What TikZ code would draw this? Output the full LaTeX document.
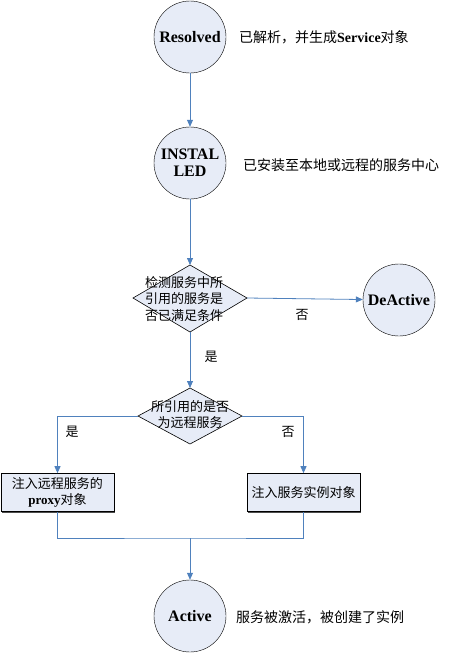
\documentclass[tikz,border=0pt]{standalone}
\usepackage{fontspec}
\setmainfont{Liberation Serif}
\newfontfamily\cjk{Noto Sans CJK SC}
\usetikzlibrary{arrows.meta,shadows}

\definecolor{shapefill}{RGB}{231, 236, 247}
\definecolor{flowblue}{RGB}{79, 129, 189}

\tikzstyle{state circle}=[draw, circle, minimum size=72pt, inner sep=0pt, fill=#1, font=\fontsize{16}{17}\selectfont\bfseries, align=center]
\tikzstyle{decision}=[draw, fill=shapefill, line width=0.6pt]
\tikzstyle{action box}=[draw, rectangle, minimum width=113pt, minimum height=38pt, inner sep=0pt, fill=#1, line width=0.6pt, align=center, font=\fontsize{13}{16}\selectfont, drop shadow={shadow xshift=1.2pt, shadow yshift=-1.2pt, fill=black!70, opacity=1}]
\tikzstyle{flow}=[flowblue, line width=0.8pt, -{Triangle[length=7pt,width=6pt]}]
\tikzstyle{link}=[flowblue, line width=0.8pt]
\tikzstyle{note}=[anchor=west, inner sep=0pt, font=\fontsize{14}{16}\selectfont]
\tikzstyle{branch}=[inner sep=0pt, font=\fontsize{13}{15}\selectfont\cjk]

\begin{document}
\begin{tikzpicture}[x=1pt, y=-1pt]
		\useasboundingbox (0,0) rectangle (450,654);

		% states
		\node [state circle = shapefill] (resolved) at (190,37) {Resolved};
		\node [state circle = shapefill] (installed) at (190,163) {INSTAL\\LED};
		\node [state circle = shapefill] (deactive) at (399,300) {DeActive};
		\node [state circle = shapefill] (active) at (190,616) {Active};

		\node[note] (resolvedtxt) at (239,37) {{\cjk 已解析，并生成}\textbf{Service}{\cjk 对象}};
		\node[note] (installedtxt) at (243,165) {\cjk 已安装至本地或远程的服务中心};
		\node[note] (activetxt) at (236,617) {\cjk 服务被激活，被创建了实例};

		% first check
		\coordinate (checkN) at (190,265);
		\coordinate (checkE) at (247,298);
		\coordinate (checkS) at (190,332);
		\coordinate (checkW) at (133,298);
		\draw[decision] (checkN) -- (checkE) -- (checkS) -- (checkW) -- cycle;
		\node[align=center, inner sep=0pt, font=\fontsize{13}{16.5}\selectfont\cjk] (check) at (184,299) {检测服务中所\\引用的服务是\\否已满足条件};

		% second check
		\coordinate (remoteN) at (190,388);
		\coordinate (remoteE) at (242,416);
		\coordinate (remoteS) at (190,444);
		\coordinate (remoteW) at (138,416);
		\draw[decision] (remoteN) -- (remoteE) -- (remoteS) -- (remoteW) -- cycle;
		\node[align=center, inner sep=0pt, font=\fontsize{13}{16}\selectfont\cjk] (remote) at (190,415) {所引用的是否\\为远程服务};

		% actions
		\node [action box = shapefill] (proxy) at (57.5,492.5) {{\cjk 注入远程服务的}\\\textbf{proxy}{\cjk 对象}};
		\node [action box = shapefill] (instance) at (303.5,492.5) {\cjk 注入服务实例对象};

		\coordinate (join) at (190,538);

		% connectors
		\draw[flow] (resolved) -- (installed);
		\draw[flow] (installed) -- (checkN);
		\draw[flow] (checkE) -- (deactive);
		\draw[flow] (checkS) -- (remoteN);
		\draw[flow] (remoteW) -| (proxy);
		\draw[flow] (remoteE) -| (instance);
		\draw[link] (proxy) |- (join) -| (instance);
		\draw[flow] (join) -- (active);

		\node[branch] (no1) at (302,315) {否};
		\node[branch] (yes1) at (211,357) {是};
		\node[branch] (yes2) at (72,432) {是};
		\node[branch] (no2) at (288,432) {否};
	\end{tikzpicture}
\end{document}
